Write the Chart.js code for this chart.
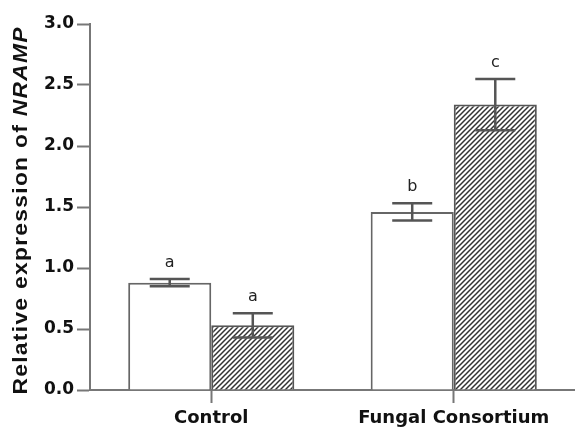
<!DOCTYPE html>
<html>
<head>
<meta charset="utf-8">
<script src="https://cdn.jsdelivr.net/npm/chart.js@4"></script>
<style>
  html, body { margin: 0; background: #fff; }
</style>
</head>
<body>
<canvas id="chart" width="575" height="427"></canvas>
<script>
const categories = ["Control", "Fungal Consortium"];
const openValues = [0.88, 1.46];
const openErrors = [0.03, 0.07];
const hatchedValues = [0.53, 2.34];
const hatchedErrors = [0.10, 0.21];
const openLetters = ["a", "b"];
const hatchedLetters = ["a", "c"];
const yTicks = [0, 0.5, 1.0, 1.5, 2.0, 2.5, 3.0];

const lettersByDataset = [openLetters, hatchedLetters];
const errorsByDataset = [openErrors, hatchedErrors];

function makeHatch() {
  const size = 5;
  const p = document.createElement("canvas");
  p.width = size;
  p.height = size;
  const g = p.getContext("2d");
  g.fillStyle = "#fff";
  g.fillRect(0, 0, size, size);
  g.strokeStyle = "#333";
  g.lineWidth = 1.5;
  g.beginPath();
  g.moveTo(-1, size + 1);
  g.lineTo(size + 1, -1);
  g.moveTo(-1, 1);
  g.lineTo(1, -1);
  g.moveTo(size - 1, size + 1);
  g.lineTo(size + 1, size - 1);
  g.stroke();
  return g.createPattern(p, "repeat");
}

// error bars + significance letters
const errorBars = {
  id: "errorBars",
  afterDatasetsDraw(chart) {
    const ctx = chart.ctx;
    const y = chart.scales.y;
    ctx.save();
    chart.data.datasets.forEach((ds, di) => {
      const meta = chart.getDatasetMeta(di);
      meta.data.forEach((bar, i) => {
        const v = ds.data[i];
        const e = errorsByDataset[di][i];
        const top = y.getPixelForValue(v + e);
        const bot = y.getPixelForValue(v - e);
        const half = 20;
        ctx.strokeStyle = "#555";
        ctx.lineWidth = 2.5;
        ctx.beginPath();
        ctx.moveTo(bar.x, top);
        ctx.lineTo(bar.x, bot);
        ctx.moveTo(bar.x - half, top);
        ctx.lineTo(bar.x + half, top);
        ctx.moveTo(bar.x - half, bot);
        ctx.lineTo(bar.x + half, bot);
        ctx.stroke();

        ctx.fillStyle = "#222";
        ctx.font = "16px 'DejaVu Sans', sans-serif";
        ctx.textAlign = "center";
        ctx.textBaseline = "middle";
        ctx.fillText(lettersByDataset[di][i], bar.x, top - 16);
      });
    });
    ctx.restore();
  }
};

// y title with italic gene name, fitted to the axis length
const yTitle = {
  id: "yTitle",
  afterDraw(chart) {
    const ctx = chart.ctx;
    const a = "Relative expression of ";
    const b = "NRAMP";
    const plain = "bold 21px 'Liberation Sans', Arial, sans-serif";
    const ital = "italic bold 21px 'Liberation Sans', Arial, sans-serif";
    const ls = 1.2;
    ctx.save();
    ctx.font = plain;
    const wa = ctx.measureText(a).width + ls * a.length;
    ctx.font = ital;
    const wb = ctx.measureText(b).width + ls * (b.length - 1);
    const span = 367;
    const s = span / (wa + wb);
    ctx.translate(27, 211);
    ctx.rotate(-Math.PI / 2);
    ctx.scale(s, 1);
    ctx.letterSpacing = ls + "px";
    ctx.fillStyle = "#111";
    ctx.textBaseline = "alphabetic";
    ctx.textAlign = "left";
    const x = -(wa + wb) / 2;
    ctx.font = plain;
    ctx.fillText(a, x, 0);
    ctx.font = ital;
    ctx.fillText(b, x + wa, 0);
    ctx.restore();
  }
};

new Chart(document.getElementById("chart"), {
  type: "bar",
  data: {
    labels: categories,
    datasets: [
      {
        label: "open",
        data: openValues,
        backgroundColor: "#fff",
        borderColor: "#666",
        borderWidth: 2,
        borderSkipped: "bottom"
      },
      {
        label: "hatched",
        data: hatchedValues,
        backgroundColor: makeHatch(),
        borderColor: "#555",
        borderWidth: 2,
        borderSkipped: "bottom"
      }
    ]
  },
  options: {
    responsive: false,
    animation: false,
    layout: { padding: { top: 24, right: 0, left: 0, bottom: 0 } },
    plugins: {
      legend: { display: false },
      tooltip: { enabled: false }
    },
    datasets: {
      bar: { categoryPercentage: 0.685, barPercentage: 1.0 }
    },
    scales: {
      x: {
        grid: {
          offset: false,
          drawOnChartArea: false,
          drawTicks: true,
          tickLength: 13,
          tickColor: "#777",
          tickWidth: 2
        },
        border: { color: "#777", width: 2 },
        ticks: {
          color: "#111",
          padding: 5,
          font: { family: "'DejaVu Sans', sans-serif", size: 18, weight: "bold" }
        },
        afterFit(scale) { scale.height = 37; }
      },
      y: {
        min: 0,
        max: 3,
        afterBuildTicks(scale) {
          scale.ticks = yTicks.map(v => ({ value: v }));
        },
        grid: {
          drawOnChartArea: false,
          drawTicks: true,
          tickLength: 13,
          tickColor: "#777",
          tickWidth: 2
        },
        border: { color: "#777", width: 2 },
        ticks: {
          color: "#111",
          padding: 3,
          font: { family: "'DejaVu Sans', sans-serif", size: 17, weight: "bold" },
          callback: v => v.toFixed(1)
        },
        afterFit(scale) { scale.width = 90; }
      }
    }
  },
  plugins: [errorBars, yTitle]
});
</script>
</body>
</html>
